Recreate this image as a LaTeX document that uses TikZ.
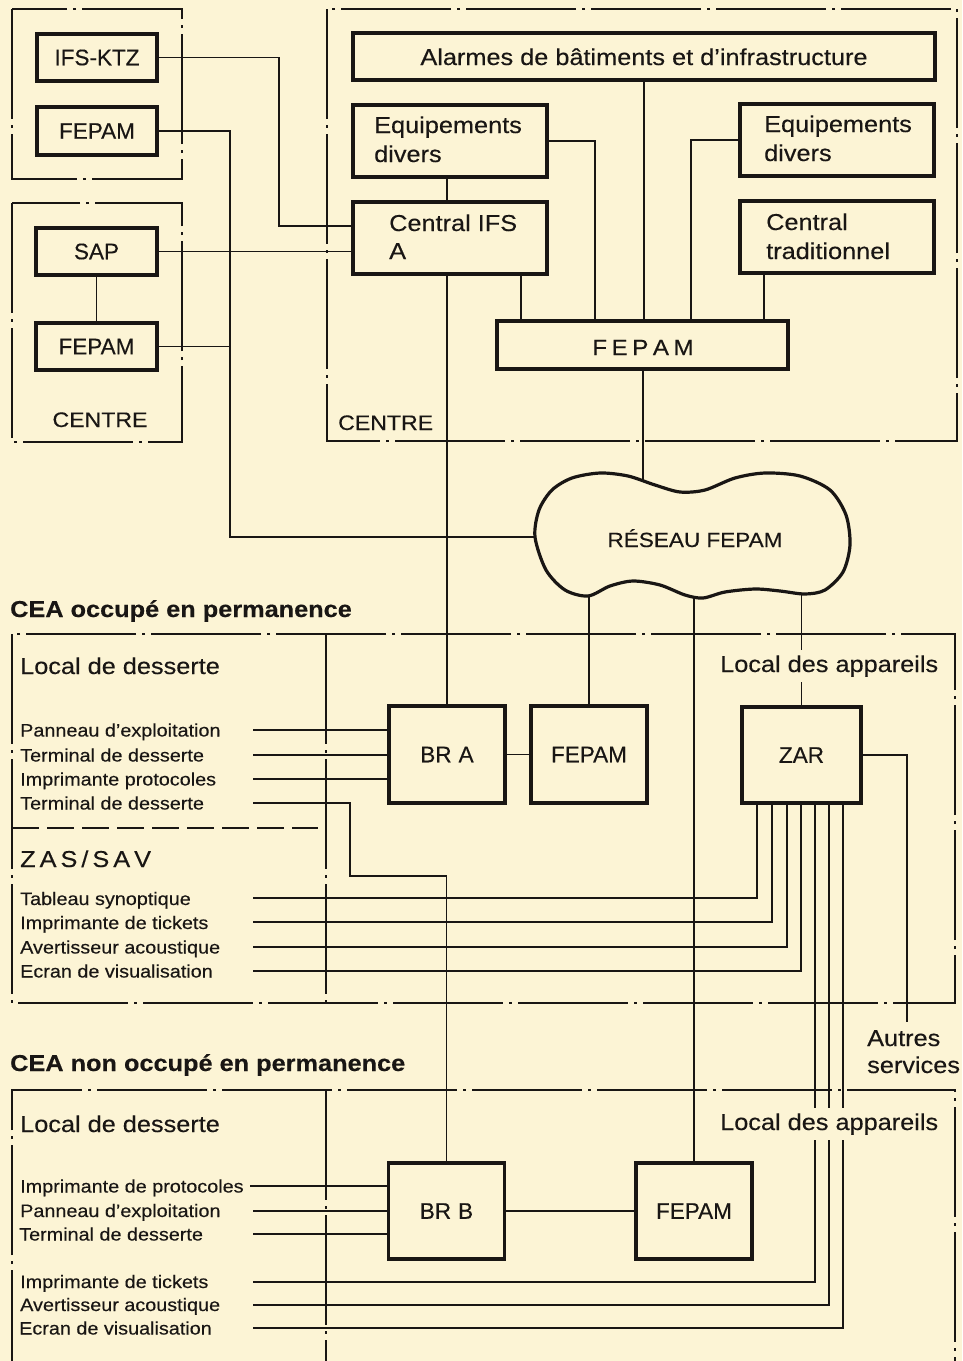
\documentclass[tikz,border=0pt]{standalone}
\usepackage{fontspec}
\setmainfont[FakeStretch=1.1, FakeBold=0.3]{Liberation Sans}
\newfontfamily\boxfont[FakeBold=0.3]{Liberation Sans}
\usetikzlibrary{calc}
\definecolor{bg}{RGB}{252,244,213}
\definecolor{ink}{RGB}{25,22,20}
\tikzset{
  blk/.style={draw=ink, line width=3.2pt, fill=bg, inner sep=0pt, text=ink,
    font=\boxfont\fontsize{22.5}{27}\selectfont},
  wire/.style={draw=ink, line width=1.9pt},
  zone/.style={draw=ink, line width=1.8pt, dash pattern=on 110pt off 6pt on 3pt off 6pt},
  sepline/.style={draw=ink, line width=1.8pt, dash pattern=on 27pt off 8pt},
  big/.style={font=\fontsize{23}{28}\selectfont, text=ink, inner sep=0pt},
  small/.style={font=\fontsize{18}{22}\selectfont, text=ink, inner sep=0pt, anchor=base west},
  head/.style={font=\bfseries\fontsize{23}{28}\selectfont, text=ink, inner sep=0pt, anchor=base west},
  centrelbl/.style={font=\fontsize{21}{25}\selectfont, text=ink, inner sep=0pt},
  mask/.style={big, fill=bg, inner xsep=1pt, inner ysep=5pt, anchor=base west}
}
\begin{document}
\begin{tikzpicture}[x=1pt, y=-1pt]
\fill[bg] (0,0) rectangle (962,1361);
\useasboundingbox (0,0) rectangle (962,1361);
\clip (0,0) rectangle (962,1361);

% zones
\draw[zone] (12,9) rectangle (182,179);
\draw[zone] (12,203) rectangle (182,442);
\draw[zone] (327,9) rectangle (957,441);
\draw[zone] (12,634) rectangle (955,1003);
\draw[zone] (326,634) -- (326,1003);
\draw[sepline] (12,828) -- (318,828);
\draw[zone] (12,1380) -- (12,1090) -- (955,1090) -- (955,1380);
\draw[zone] (326,1090) -- (326,1380);

% boxes
\node[blk, minimum width=120pt, minimum height=47pt] (ifsktz) at (97,57.5) {IFS-KTZ};
\node[blk, minimum width=120pt, minimum height=48pt] (fepam1) at (97,131) {FEPAM};
\node[blk, minimum width=121pt, minimum height=47pt] (sap) at (96.5,251.5) {SAP};
\node[blk, minimum width=121pt, minimum height=47pt] (fepam2) at (96.5,346.5) {FEPAM};
\node[blk, minimum width=582pt, minimum height=47pt] (alarm) at (644,56.5) {};
\node[blk, minimum width=194pt, minimum height=72pt] (eqL) at (450,141) {};
\node[blk, minimum width=194pt, minimum height=72pt] (eqR) at (837,140) {};
\node[blk, minimum width=194pt, minimum height=72pt] (ifsA) at (450,238) {};
\node[blk, minimum width=194pt, minimum height=72pt] (trad) at (837,237) {};
\node[blk, minimum width=291pt, minimum height=48pt] (fepamC) at (642.5,345) {};
\node[blk, minimum width=116pt, minimum height=97pt] (brA) at (447,754.5) {BR\hspace{7pt}A};
\node[blk, minimum width=116pt, minimum height=97pt] (fepamA) at (589,754.5) {FEPAM};
\node[blk, minimum width=119pt, minimum height=96pt] (zar) at (801.5,755) {ZAR};
\node[blk, minimum width=116pt, minimum height=96pt] (brB) at (446.5,1211) {BR\hspace{7pt}B};
\node[blk, minimum width=116pt, minimum height=96pt] (fepamB) at (694,1211) {FEPAM};

% helper coordinates
\coordinate (b1) at (279,226);
\coordinate (b2) at (230,537);
\coordinate (cloudW) at (545,537);
\coordinate (cloudN) at (643,492);
\coordinate (cloudS1) at (589,585);
\coordinate (cloudS2) at (694,585);
\coordinate (cloudS3) at (801.5,585);
\coordinate (x521) at (521,0);
\coordinate (x595) at (595,0);
\coordinate (x691) at (691,0);
\coordinate (x764) at (764,0);
\coordinate (b3) at (907,1022);
\coordinate (b4) at (350,876);
\coordinate (pa1) at (253,730);
\coordinate (pa2) at (253,755);
\coordinate (pa3) at (253,779);
\coordinate (pa4) at (253,803);
\coordinate (zs1) at (253,898);
\coordinate (zs2) at (253,922);
\coordinate (zs3) at (253,947);
\coordinate (zs4) at (253,971);
\coordinate (q1) at (250,1186);
\coordinate (q2) at (253,1211);
\coordinate (q3) at (253,1234);
\coordinate (zl1) at (253,1282);
\coordinate (zl2) at (253,1305);
\coordinate (zl3) at (253,1328);
\coordinate (zc1) at (757,0);
\coordinate (zc2) at (772,0);
\coordinate (zc3) at (787,0);
\coordinate (zc4) at (801,0);
\coordinate (zc5) at (815,0);
\coordinate (zc6) at (829,0);
\coordinate (zc7) at (843,0);

% wires top
\draw[wire] (ifsktz.east) -| (b1) -- (b1 -| ifsA.west);
\draw[wire] (fepam1.east) -| (b2) -- (cloudW);
\draw[wire] (fepam2.east) -- (fepam2.east -| b2);
\draw[wire] (sap.east) -- (sap.east -| ifsA.west);
\draw[wire] (sap.south) -- (fepam2.north);
\draw[wire] (alarm.south) -- (alarm.south |- fepamC.north);
\draw[wire] (eqL.east) -| (fepamC.north -| x595);
\draw[wire] (eqL.south -| brA.north) -- (ifsA.north -| brA.north);
\draw[wire] (ifsA.south -| brA.north) -- (brA.north);
\draw[wire] (ifsA.south -| x521) -- (fepamC.north -| x521);
\draw[wire] (eqR.west) -| (fepamC.north -| x691);
\draw[wire] (trad.south -| x764) -- (fepamC.north -| x764);
\draw[wire] (fepamC.south -| cloudN) -- (cloudN);

% wires cloud
\draw[wire] (cloudS1) -- (cloudS1 |- fepamA.north);
\draw[wire] (cloudS2) -- (cloudS2 |- fepamB.north);
\draw[wire] (cloudS3) -- (zar.north);
\draw[wire] (brA.east) -- (fepamA.west);
\draw[wire] (zar.east) -| (b3);

% desserte lines
\draw[wire] (pa1) -- (pa1 -| brA.west);
\draw[wire] (pa2) -- (pa2 -| brA.west);
\draw[wire] (pa3) -- (pa3 -| brA.west);
\draw[wire] (pa4) -| (b4) -| (brB.north);
\draw[wire] (zar.south -| zc1) |- (zs1);
\draw[wire] (zar.south -| zc2) |- (zs2);
\draw[wire] (zar.south -| zc3) |- (zs3);
\draw[wire] (zar.south -| zc4) |- (zs4);
\draw[wire] (zar.south -| zc5) |- (zl1);
\draw[wire] (zar.south -| zc6) |- (zl2);
\draw[wire] (zar.south -| zc7) |- (zl3);
\draw[wire] (q1) -- (q1 -| brB.west);
\draw[wire] (q2) -- (q2 -| brB.west);
\draw[wire] (q3) -- (q3 -| brB.west);
\draw[wire] (brB.east) -- (fepamB.west);

% cloud
\draw[draw=ink, line width=3.2pt, fill=bg] plot[smooth cycle, tension=0.5] coordinates {
  (535,537) (539,510) (552,490) (572,478) (600,473) (628,476) (655,485)
  (680,492) (705,490) (735,478) (765,473) (800,476) (830,490) (846,515)
  (850,545) (843,572) (825,590) (805,594) (780,591) (755,589) (725,592)
  (703,598) (685,595) (660,585) (633,581) (610,586) (588,596) (565,590)
  (546,570)};
\node[font=\fontsize{20.5}{24}\selectfont, text=ink, inner sep=0pt, anchor=base] (reseau) at (695,547) {RÉSEAU FEPAM};

% labels in boxes
\node[big, anchor=base] (alarmT) at (644,65) {Alarmes de bâtiments et d’infrastructure};
\node[big, anchor=base west] (eqL1) at (374,133) {Equipements};
\node[big, anchor=base west] (eqL2) at (374,162) {divers};
\node[big, anchor=base west] (eqR1) at (764,132) {Equipements};
\node[big, anchor=base west] (eqR2) at (764,161) {divers};
\node[big, anchor=base west] (ifsA1) at (389,231) {Central IFS};
\node[big, anchor=base west] (ifsA2) at (389,259) {A};
\node[big, anchor=base west] (trad1) at (766,230) {Central};
\node[big, anchor=base west] (trad2) at (766,259) {traditionnel};
\node[big, font=\fontsize{22}{26}\selectfont, anchor=base] (fepamCT) at (643,355) {F\kern4.5pt E\kern4.5pt P\kern4.5pt A\kern4.5pt M};
\node[centrelbl, anchor=base] (cen1) at (100,427) {CENTRE};
\node[centrelbl, anchor=base west] (cen2) at (338,430) {CENTRE};

% headings
\node[head] (h1) at (10,617) {CEA occupé en permanence};
\node[head] (h2) at (10,1071) {CEA non occupé en permanence};

% middle section texts
\node[big, anchor=base west] (ld1) at (20,674) {Local de desserte};
\node[small] (t1) at (20,736.5) {Panneau d’exploitation};
\node[small] (t2) at (20,761.5) {Terminal de desserte};
\node[small] (t3) at (20,785.5) {Imprimante protocoles};
\node[small] (t4) at (20,809.5) {Terminal de desserte};
\node[big, anchor=base west] (zas) at (20,867) {Z\kern4pt A\kern4pt S\kern4pt/\kern4pt S\kern4pt A\kern4pt V};
\node[small] (t5) at (20,905) {Tableau synoptique};
\node[small] (t6) at (20,929) {Imprimante de tickets};
\node[small] (t7) at (20,953.5) {Avertisseur acoustique};
\node[small] (t8) at (20,977.5) {Ecran de visualisation};
\node[mask] (lda1) at (719,672) {Local des appareils};
\node[big, anchor=base west] (au1) at (867,1046) {Autres};
\node[big, anchor=base west] (au2) at (867,1073) {services};

% lower section texts
\node[big, anchor=base west] (ld2) at (20,1132) {Local de desserte};
\node[mask] (lda2) at (719,1130) {Local des appareils};
\node[small] (u1) at (20,1192.5) {Imprimante de protocoles};
\node[small] (u2) at (20,1217) {Panneau d’exploitation};
\node[small] (u3) at (19,1240.5) {Terminal de desserte};
\node[small] (u4) at (20,1288) {Imprimante de tickets};
\node[small] (u5) at (20,1311) {Avertisseur acoustique};
\node[small] (u6) at (19,1334.5) {Ecran de visualisation};
\end{tikzpicture}
\end{document}
